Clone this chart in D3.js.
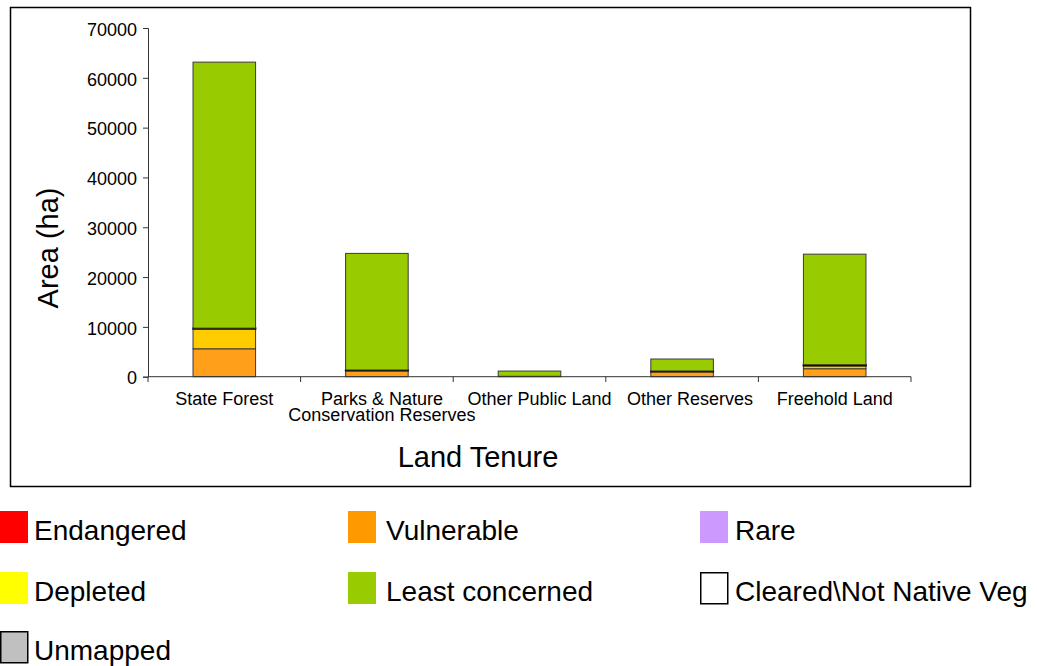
<!DOCTYPE html>
<html>
<head>
<meta charset="utf-8">
<script src="https://cdn.jsdelivr.net/npm/d3@7"></script>
<style>
  body { margin: 0; background: #fff; }
  svg { font-family: "Liberation Sans", Arial, sans-serif; }
</style>
</head>
<body>
<svg id="chart" width="1037" height="666"></svg>
<script>
const categories = [["State Forest"], ["Parks & Nature", "Conservation Reserves"], ["Other Public Land"], ["Other Reserves"], ["Freehold Land"]];
const endangered = [0, 0, 0, 0, 0];
const vulnerable = [5600, 1200, 80, 1000, 1600];
const rare = [0, 0, 0, 0, 0];
const depleted = [4000, 0, 0, 0, 600];
const cleared = [150, 150, 0, 150, 200];
const leastConcerned = [53400, 23400, 1050, 2400, 22200];
const unmapped = [0, 0, 0, 0, 0];
const yTicks = [0, 10000, 20000, 30000, 40000, 50000, 60000, 70000];

const series = [
  { key: "Endangered", values: endangered, fill: "#FF0000", legend: "#FF0000" },
  { key: "Vulnerable", values: vulnerable, fill: "#FF9F1A", legend: "#FF9900" },
  { key: "Rare", values: rare, fill: "#CC99FF", legend: "#CC99FF" },
  { key: "Depleted", values: depleted, fill: "#FFCC00", legend: "#FFFF00" },
  { key: "Least concerned", values: leastConcerned, fill: "#99CC00", legend: "#99CC00" },
  { key: "Cleared\\Not Native Veg", values: cleared, fill: "#FFFFFF", legend: "#FFFFFF" },
  { key: "Unmapped", values: unmapped, fill: "#C0C0C0", legend: "#C0C0C0" }
];
// stacking order in the bars (cleared sits between depleted and least concerned)
const stackOrder = ["Endangered", "Vulnerable", "Rare", "Depleted", "Cleared\\Not Native Veg", "Least concerned", "Unmapped"];

const rows = categories.map((c, i) => {
  const r = { cat: c.join(" ") };
  series.forEach(s => r[s.key] = s.values[i]);
  return r;
});

const svg = d3.select("#chart");

// outer chart border
svg.append("rect")
  .attr("x", 10.5).attr("y", 7.5)
  .attr("width", 960).attr("height", 479)
  .attr("fill", "none").attr("stroke", "#000").attr("stroke-width", 1.5);

const x = d3.scaleBand().domain(rows.map(d => d.cat)).range([148, 911]).paddingInner(0.59).paddingOuter(0.295);
const y = d3.scaleLinear().domain([0, 70000]).range([376.7, 28]);

const stack = d3.stack().keys(stackOrder);
const layers = stack(rows);
const fillOf = k => series.find(s => s.key === k).fill;

const g = svg.append("g");
layers.forEach(layer => {
  g.selectAll(null)
    .data(layer.filter(d => d[1] - d[0] > 0))
    .join("rect")
    .attr("x", d => x(d.data.cat))
    .attr("width", x.bandwidth())
    .attr("y", d => y(d[1]))
    .attr("height", d => y(d[0]) - y(d[1]))
    .attr("fill", fillOf(layer.key))
    .attr("stroke", layer.key.startsWith("Cleared") ? "#000" : "#3a3a3a")
    .attr("stroke-width", layer.key.startsWith("Cleared") ? 1.5 : 1);
});

// y axis
const yAxis = svg.append("g")
  .attr("transform", "translate(148,0)")
  .call(d3.axisLeft(y).tickValues(yTicks).tickSize(5).tickPadding(6).tickFormat(d3.format("d")));
yAxis.select(".domain").attr("stroke", "#333");
yAxis.selectAll(".tick line").attr("stroke", "#333");
yAxis.selectAll("text").attr("font-size", 18).attr("font-family", "Liberation Sans, Arial, sans-serif").attr("fill", "#000").attr("dy", "0.4em");

// x axis with ticks at category boundaries
const step = x.step();
const bounds = d3.range(categories.length + 1).map(i => 148 + i * step);
svg.append("line").attr("x1", 148).attr("x2", 911).attr("y1", 376.7).attr("y2", 376.7).attr("stroke", "#333");
svg.selectAll(".xtick").data(bounds).join("line")
  .attr("x1", d => d).attr("x2", d => d)
  .attr("y1", 376.7).attr("y2", 382)
  .attr("stroke", "#333");

// labels are nudged sideways a little, as Excel does to keep them apart
const labelShift = [0, 5, 10, 8, 0];
rows.forEach((r, i) => {
  const cx = x(r.cat) + x.bandwidth() / 2 + labelShift[i];
  const t = svg.append("text")
    .attr("x", cx).attr("y", 405)
    .attr("text-anchor", "middle").attr("font-size", 18);
  categories[i].forEach((line, j) => {
    t.append("tspan").attr("x", cx).attr("dy", j === 0 ? 0 : 16).text(line);
  });
});

// axis titles
svg.append("text").attr("x", 478).attr("y", 467)
  .attr("text-anchor", "middle").attr("font-size", 29).text("Land Tenure");
svg.append("text")
  .attr("transform", "translate(58,248) rotate(-90)")
  .attr("text-anchor", "middle").attr("font-size", 29).text("Area (ha)");

// legend
const legendCols = [0, 348, 700];
const legendRows = [511, 572, 631];
series.forEach((s, i) => {
  const lx = legendCols[i % 3], ly = legendRows[Math.floor(i / 3)];
  const bordered = s.key.startsWith("Cleared") || s.key === "Unmapped";
  svg.append("rect")
    .attr("x", lx + (bordered ? 0.75 : 0)).attr("y", ly + (bordered ? 0.75 : 0))
    .attr("width", bordered ? 27 : 28).attr("height", bordered ? 31 : 32)
    .attr("fill", s.legend)
    .attr("stroke", bordered ? "#000" : "none")
    .attr("stroke-width", 1.5);
  svg.append("text")
    .attr("x", lx + (i % 3 === 2 ? 35 : (i % 3 === 1 ? 38 : 34)))
    .attr("y", ly + 28.5)
    .attr("font-size", 28).text(s.key);
});
</script>
</body>
</html>
